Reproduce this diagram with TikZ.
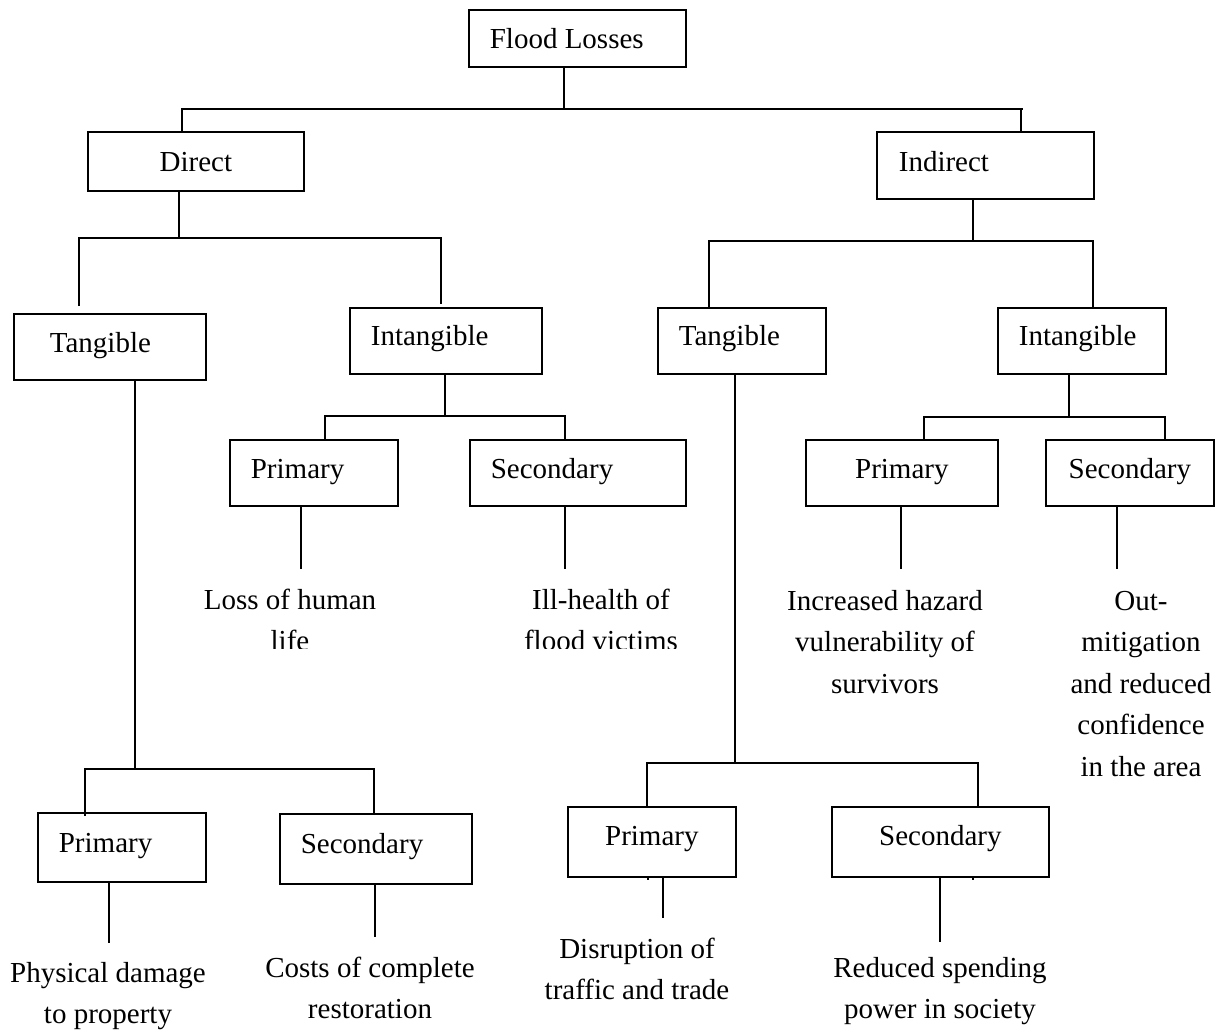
\documentclass[tikz,border=0pt]{standalone}
\usepackage{fontspec}
\setmainfont{Liberation Serif}
\newcommand\fs{\fontsize{29pt}{41.5pt}\selectfont}
\begin{document}
\begin{tikzpicture}[x=1pt,y=-1pt,
  bx/.style n args={3}{draw, line width=1.7pt, anchor=north west, inner sep=0pt,
     minimum height=#1, text height=#2, text depth=#3, font=\fs},
  ln/.style={line width=1.6pt, line join=miter},
  leaf/.style={align=center, anchor=base, inner sep=0pt, font=\fs}]
\useasboundingbox (0,0) rectangle (1227,1030);
% boxes
\node[bx={57pt}{24pt}{3pt}] (fl) at (468,9) {\makebox[217pt][l]{\hspace{21pt}Flood Losses}};
\node[bx={59pt}{24pt}{3pt}] (dir) at (87,131) {\makebox[216pt][c]{Direct}};
\node[bx={67pt}{20pt}{7pt}] (ind) at (876,131) {\makebox[217pt][l]{\hspace{22pt}Indirect}};
\node[bx={66pt}{20pt}{8pt}] (dtan) at (13,313) {\makebox[192pt][l]{\hspace{36pt}Tangible}};
\node[bx={66pt}{20pt}{10pt}] (dint) at (349,307) {\makebox[192pt][l]{\hspace{21pt}Intangible}};
\node[bx={66pt}{20pt}{10pt}] (itan) at (657,307) {\makebox[168pt][l]{\hspace{21pt}Tangible}};
\node[bx={66pt}{20pt}{10pt}] (iint) at (997,307) {\makebox[168pt][l]{\hspace{21pt}Intangible}};
\node[bx={66pt}{20pt}{8pt}] (dip) at (229,439) {\makebox[168pt][l]{\hspace{21pt}Primary}};
\node[bx={66pt}{20pt}{8pt}] (dis) at (469,439) {\makebox[216pt][l]{\hspace{21pt}Secondary}};
\node[bx={66pt}{20pt}{8pt}] (iip) at (805,439) {\makebox[192pt][c]{Primary}};
\node[bx={66pt}{20pt}{8pt}] (iis) at (1045,439) {\makebox[168pt][c]{Secondary}};
\node[bx={69pt}{20pt}{9pt}] (dtp) at (37,812) {\makebox[168pt][l]{\hspace{21pt}Primary}};
\node[bx={70pt}{20pt}{10pt}] (dts) at (279,813) {\makebox[192pt][l]{\hspace{21pt}Secondary}};
\node[bx={70pt}{20pt}{12pt}] (itp) at (567,806) {\makebox[168pt][c]{Primary}};
\node[bx={70pt}{20pt}{12pt}] (its) at (831,806) {\makebox[217pt][c]{Secondary}};
% leaves (anchor = baseline of the last line)
\begin{scope}
\clip (150,560) rectangle (720,648);
\node[leaf] (l1) at (290,650.5) {Loss of human\\life};
\node[leaf] (l2) at (601,650.5) {Ill-health of\\flood victims};
\end{scope}
\node[leaf] (l3) at (885,693) {Increased hazard\\vulnerability of\\survivors};
\node[leaf] (l4) at (1141,776) {Out-\\mitigation\\and reduced\\confidence\\in the area};
\node[leaf] (l5) at (108,1023.5) {Physical damage\\to property};
\node[leaf] (l6) at (370,1018.5) {Costs of complete\\restoration};
\node[leaf] (l7) at (637,999.5) {Disruption of\\traffic and trade};
\node[leaf] (l8) at (940,1018.5) {Reduced spending\\power in society};
% junction coordinates
\coordinate (t0) at (564,109); \coordinate (tl) at (182,109);
\coordinate (tr) at (1023,109); \coordinate (trd) at (1021,109);
\coordinate (d0) at (179,238); \coordinate (dl) at (79,238); \coordinate (dr) at (441,238);
\coordinate (dle) at (79,306); \coordinate (dre) at (441,304);
\coordinate (i0) at (973,241); \coordinate (il) at (709,241); \coordinate (ir) at (1093,241);
\coordinate (a0) at (135,769); \coordinate (al) at (85,769); \coordinate (ar) at (374,769);
\coordinate (ale) at (85,816);
\coordinate (b0) at (445,416); \coordinate (bl) at (325,416); \coordinate (br) at (565,416);
\coordinate (c0) at (735,763); \coordinate (cl) at (647,763); \coordinate (cr) at (978,763);
\coordinate (cls) at (648,880); \coordinate (crs) at (973,880);
\coordinate (e0) at (1069,417); \coordinate (el) at (924,417); \coordinate (er) at (1165,417);
\coordinate (ere) at (1165,441);
\coordinate (s1) at (301,569); \coordinate (s2) at (565,569);
\coordinate (s3) at (901,569); \coordinate (s4) at (1117,569);
\coordinate (s5) at (109,943); \coordinate (s6) at (375,937);
\coordinate (s7) at (663,918); \coordinate (s8) at (940,942);
% connectors
\draw[ln] (fl.south -| t0) -- (t0);
\draw[ln] (tl |- dir.north) -- (tl) -- (tr);
\draw[ln] (trd) -- (trd |- ind.north);
\draw[ln] (dir.south -| d0) -- (d0);
\draw[ln] (dle) -- (dl) -- (dr) -- (dre);
\draw[ln] (ind.south -| i0) -- (i0);
\draw[ln] (itan.north -| il) -- (il) -- (ir) -- (iint.north -| ir);
\draw[ln] (dtan.south -| a0) -- (a0);
\draw[ln] (ale) -- (al) -- (ar) -- (dts.north -| ar);
\draw[ln] (dint.south -| b0) -- (b0);
\draw[ln] (dip.north -| bl) -- (bl) -- (br) -- (dis.north -| br);
\draw[ln] (itan.south -| c0) -- (c0);
\draw[ln] (itp.north -| cl) -- (cl) -- (cr) -- (its.north -| cr);
\draw[ln] (itp.south -| cls) -- (cls);
\draw[ln] (its.south -| crs) -- (crs);
\draw[ln] (iint.south -| e0) -- (e0);
\draw[ln] (iip.north -| el) -- (el) -- (er) -- (ere);
\draw[ln] (dip.south -| s1) -- (s1);
\draw[ln] (dis.south -| s2) -- (s2);
\draw[ln] (iip.south -| s3) -- (s3);
\draw[ln] (iis.south -| s4) -- (s4);
\draw[ln] (dtp.south -| s5) -- (s5);
\draw[ln] (dts.south -| s6) -- (s6);
\draw[ln] (itp.south -| s7) -- (s7);
\draw[ln] (its.south -| s8) -- (s8);
\end{tikzpicture}
\end{document}
